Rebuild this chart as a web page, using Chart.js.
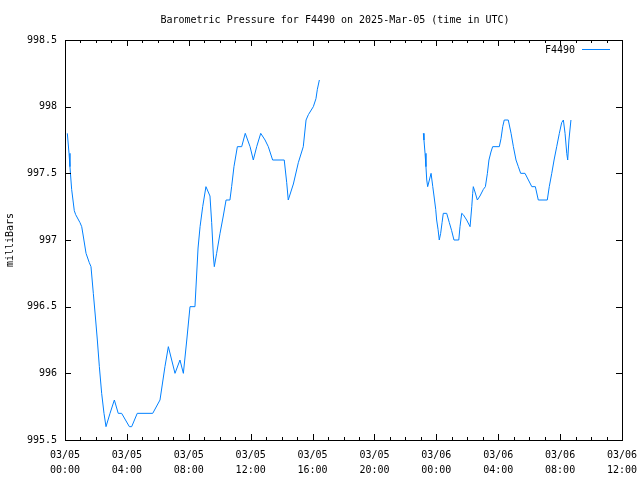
<!DOCTYPE html>
<html>
<head>
<meta charset="utf-8">
<script src="https://cdn.jsdelivr.net/npm/chart.js@4/dist/chart.umd.min.js"></script>
<style>
  html, body { margin: 0; padding: 0; background: #fff; }
  #wrap { width: 640px; height: 480px; }
</style>
</head>
<body>
<div id="wrap"><canvas id="pressure-chart" width="640" height="480"></canvas></div>
<script>
// hours since 03/05 00:00 UTC, first stretch of readings
const hours1 = [0.15, 0.26, 0.32, 0.43, 0.60, 0.69, 0.97, 1.08, 1.18, 1.36, 1.57, 1.68, 1.83, 1.96, 2.09, 2.22,
  2.37, 2.52, 2.65, 2.91, 3.19, 3.44, 3.66, 4.16, 4.31, 4.67, 5.67, 6.14, 6.46, 6.68, 7.11, 7.43, 7.65, 7.87,
  8.08, 8.40, 8.60, 8.73, 8.90, 9.11, 9.37, 9.48, 9.59, 9.65, 9.80, 10.02, 10.23, 10.41, 10.66, 10.77, 10.92,
  11.14, 11.42, 11.65, 11.96, 12.17, 12.39, 12.65, 12.93, 13.14, 13.42, 14.17, 14.33, 14.43, 14.76, 15.08,
  15.40, 15.58, 15.73, 16.05, 16.22, 16.31, 16.44];
const pressure1 = [997.8, 997.65, 997.55, 997.38, 997.22, 997.19, 997.13, 997.1, 997.03, 996.9, 996.83, 996.8,
  996.6, 996.43, 996.25, 996.05, 995.85, 995.7, 995.6, 995.7, 995.8, 995.7, 995.7, 995.6, 995.6, 995.7, 995.7,
  995.8, 996.05, 996.2, 996.0, 996.1, 996.0, 996.25, 996.5, 996.5, 996.94, 997.1, 997.25, 997.4, 997.33, 997.13,
  996.88, 996.8, 996.9, 997.05, 997.18, 997.3, 997.3, 997.4, 997.55, 997.7, 997.7, 997.8, 997.7, 997.6, 997.7,
  997.8, 997.75, 997.7, 997.6, 997.6, 997.43, 997.3, 997.42, 997.58, 997.7, 997.9, 997.94, 998.0, 998.06,
  998.13, 998.2];

// second stretch, after the gap in the record
const hours2 = [23.16, 23.20, 23.27, 23.33, 23.38, 23.44, 23.55, 23.66, 23.77, 23.85, 23.96, 24.02, 24.11,
  24.19, 24.28, 24.37, 24.45, 24.67, 24.84, 24.99, 25.14, 25.45, 25.53, 25.64, 25.74, 25.96, 26.18, 26.29,
  26.35, 26.39, 26.50, 26.65, 26.82, 27.04, 27.17, 27.30, 27.40, 27.53, 27.64, 28.07, 28.18, 28.29, 28.39,
  28.65, 28.83, 28.98, 29.15, 29.30, 29.45, 29.73, 29.95, 30.17, 30.40, 30.59, 31.17, 31.30, 31.46, 31.61,
  31.78, 31.95, 32.10, 32.21, 32.32, 32.43, 32.49, 32.57, 32.70];
const pressure2 = [997.8, 997.75, 997.65, 997.55, 997.45, 997.4, 997.45, 997.5, 997.4, 997.33, 997.23, 997.15,
  997.08, 997.0, 997.05, 997.13, 997.2, 997.2, 997.13, 997.07, 997.0, 997.0, 997.1, 997.2, 997.19, 997.15,
  997.1, 997.25, 997.35, 997.4, 997.36, 997.3, 997.33, 997.38, 997.4, 997.5, 997.6, 997.66, 997.7, 997.7,
  997.76, 997.85, 997.9, 997.9, 997.8, 997.7, 997.6, 997.55, 997.5, 997.5, 997.45, 997.4, 997.4, 997.3, 997.3,
  997.4, 997.5, 997.6, 997.7, 997.8, 997.88, 997.9, 997.8, 997.65, 997.6, 997.75, 997.9];

const xTicks = [0, 4, 8, 12, 16, 20, 24, 28, 32, 36];
const yTicks = [995.5, 996, 996.5, 997, 997.5, 998, 998.5];

const FONT = '"DejaVu Sans Mono", monospace';

function buildPoints() {
    const pts = [];
    for (var i in hours1) pts.push({x: hours1[i], y: pressure1[i]});
    pts.push({x: 20, y: null}); // break the line over the missing hours
    for (var j in hours2) pts.push({x: hours2[j], y: pressure2[j]});
    return pts;
}

function tickLabel(h) {
    const day = h < 24 ? '03/05' : '03/06';
    const hr = h % 24;
    return [day, (hr < 10 ? '0' : '') + hr + ':00'];
}

// frame, inward ticks, title, axis name and legend, gnuplot style
const framePlugin = {
    id: 'frame',
    afterDraw(chart) {
        const ctx = chart.ctx;
        const a = chart.chartArea;
        const xs = chart.scales.x;
        const ys = chart.scales.y;
        ctx.save();
        ctx.strokeStyle = '#000';
        ctx.lineWidth = 1;
        ctx.strokeRect(Math.round(a.left) + 0.5, Math.round(a.top) + 0.5,
            Math.round(a.right - a.left), Math.round(a.bottom - a.top));
        ctx.beginPath();
        for (let h = 0; h <= 36; h++) {
            const px = Math.round(xs.getPixelForValue(h)) + 0.5;
            const len = h % 4 === 0 ? 6 : 3;
            ctx.moveTo(px, a.bottom); ctx.lineTo(px, a.bottom - len);
            ctx.moveTo(px, a.top); ctx.lineTo(px, a.top + len);
        }
        yTicks.forEach(v => {
            const py = Math.round(ys.getPixelForValue(v)) + 0.5;
            ctx.moveTo(a.left, py); ctx.lineTo(a.left + 6, py);
            ctx.moveTo(a.right, py); ctx.lineTo(a.right - 6, py);
        });
        ctx.stroke();

        ctx.fillStyle = '#000';
        ctx.font = '10px ' + FONT;
        ctx.textAlign = 'center';
        ctx.textBaseline = 'middle';
        ctx.fillText('Barometric Pressure for F4490 on 2025-Mar-05 (time in UTC)', 335, 20);

        ctx.save();
        ctx.translate(10, 240);
        ctx.rotate(-Math.PI / 2);
        ctx.fillText('milliBars', 0, 0);
        ctx.restore();

        const ds = chart.data.datasets[0];
        ctx.textAlign = 'right';
        ctx.fillText(ds.label, 575, 50);
        ctx.strokeStyle = ds.borderColor;
        ctx.beginPath();
        ctx.moveTo(582, 49.5);
        ctx.lineTo(610, 49.5);
        ctx.stroke();
        ctx.restore();
    }
};

const config = {
    type: 'line',
    data: {
        datasets: [
            {
                label: 'F4490',
                data: buildPoints(),
                borderColor: 'rgb(0, 128, 255)',
                backgroundColor: 'rgb(0, 128, 255)',
                borderWidth: 1,
                pointRadius: 0,
                tension: 0,
                spanGaps: false
            }
        ]
    },
    options: {
        responsive: false,
        animation: false,
        layout: { padding: { top: 40, right: 18, left: 0, bottom: 0 } },
        plugins: {
            legend: { display: false },
            title: { display: false },
            tooltip: { enabled: false }
        },
        scales: {
            x: {
                type: 'linear',
                min: 0,
                max: 36,
                afterFit: s => { s.height = 40; s.paddingLeft = 0; s.paddingRight = 0; },
                afterBuildTicks: s => { s.ticks = xTicks.map(v => ({value: v})); },
                grid: { display: false, drawTicks: false },
                border: { display: false },
                ticks: {
                    maxRotation: 0,
                    autoSkip: false,
                    padding: 8,
                    color: '#000',
                    font: { family: FONT, size: 10, lineHeight: '15px' },
                    callback: v => tickLabel(v)
                }
            },
            y: {
                min: 995.5,
                max: 998.5,
                afterFit: s => { s.width = 65; s.paddingTop = 0; s.paddingBottom = 0; },
                afterBuildTicks: s => { s.ticks = yTicks.map(v => ({value: v})); },
                grid: { display: false, drawTicks: false },
                border: { display: false },
                ticks: {
                    padding: 8,
                    color: '#000',
                    font: { family: FONT, size: 10 },
                    callback: v => String(v)
                }
            }
        }
    },
    plugins: [framePlugin]
};

const pressureChart = new Chart(document.getElementById('pressure-chart'), config);
</script>
</body>
</html>
